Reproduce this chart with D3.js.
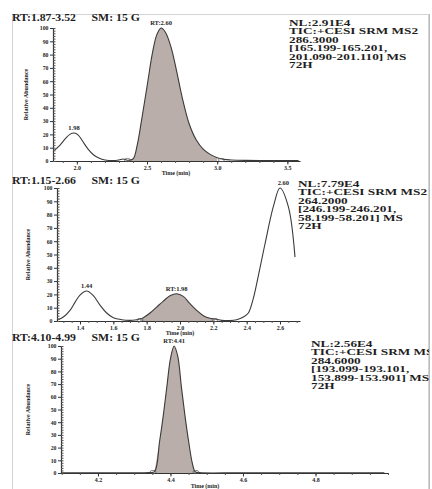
<!DOCTYPE html>
<html>
<head>
<meta charset="utf-8">
<script src="https://cdn.jsdelivr.net/npm/d3@7"></script>
<style>
  body { margin: 0; background: #fff; }
  text { font-family: "Liberation Serif", "DejaVu Serif", serif; font-weight: bold; fill: #1e1e1e; }
</style>
</head>
<body>
<div id="chart"></div>
<script>
// chromatogram 1
const time1 = [1.84, 1.88, 1.92, 1.95, 1.98, 2.01, 2.04, 2.08, 2.12, 2.16, 2.20, 2.26, 2.30, 2.33, 2.36, 2.40, 2.43, 2.46, 2.50, 2.54, 2.57, 2.60, 2.63, 2.67, 2.71, 2.75, 2.80, 2.85, 2.90, 2.95, 3.00, 3.05, 3.10, 3.20, 3.35, 3.58];
const abund1 = [8, 12, 17, 20, 21, 19.5, 15, 9, 4.5, 2, 0.8, 0.3, 0.8, 1.5, 0.6, 1.5, 12, 30, 56, 82, 95, 100, 97, 86, 68, 48, 28, 16, 9, 5, 2.5, 1.2, 0.8, 0.5, 0.4, 0.3];
// chromatogram 2
const time2 = [1.27, 1.30, 1.34, 1.37, 1.40, 1.44, 1.48, 1.52, 1.56, 1.60, 1.65, 1.70, 1.74, 1.76, 1.78, 1.82, 1.86, 1.90, 1.94, 1.98, 2.02, 2.06, 2.10, 2.14, 2.18, 2.21, 2.25, 2.30, 2.34, 2.38, 2.41, 2.44, 2.47, 2.51, 2.56, 2.60, 2.65, 2.69];
const abund2 = [1, 3, 8, 14, 19.5, 22.5, 19, 12, 6, 2.5, 1, 0.5, 1, 1.5, 2.5, 6, 10.5, 15, 19, 20.5, 18.5, 13, 8, 4, 2, 1.5, 0.5, 0.3, 1, 3, 6, 17, 34, 58, 86, 100, 86, 48];
// chromatogram 3
const time3 = [4.10, 4.25, 4.34, 4.356, 4.37, 4.38, 4.39, 4.40, 4.41, 4.42, 4.43, 4.44, 4.45, 4.46, 4.468, 4.48, 4.60, 4.99];
const abund3 = [0.2, 0.2, 0.3, 1, 25, 45, 68, 90, 100, 92, 68, 45, 25, 8, 1, 0.3, 0.2, 0.2];

const titles = ["RT:1.87-3.52", "RT:1.15-2.66", "RT:4.10-4.99"];
const smLabel = "SM: 15 G";
const majorTicks = [[2.0, 2.5, 3.0, 3.5], [1.4, 1.6, 1.8, 2.0, 2.2, 2.4, 2.6], [4.2, 4.4, 4.6, 4.8]];
const fillRanges = [[2.36, 3.03], [1.76, 2.21], [4.352, 4.47]];
const peakLabels = [
  [{t: 1.98, v: 21, s: "1.98"}, {t: 2.60, v: 100, s: "RT:2.60"}],
  [{t: 1.44, v: 22.5, s: "1.44"}, {t: 1.98, v: 20.5, s: "RT:1.98"}, {t: 2.62, v: 100, s: "2.60"}],
  [{t: 4.41, v: 100, s: "RT:4.41"}]
];
const infoText = [
  ["NL:2.91E4", "TIC:+CESI SRM MS2", "286.3000", "[165.199-165.201,", "201.090-201.110] MS", "72H"],
  ["NL:7.79E4", "TIC:+CESI SRM MS2", "264.2000", "[246.199-246.201,", "58.199-58.201] MS", "72H"],
  ["NL:2.56E4", "TIC:+CESI SRM MS2", "284.6000", "[193.099-193.101,", "153.899-153.901] MS", "72H"]
];
const yTicks = [0, 10, 20, 30, 40, 50, 60, 70, 80, 90, 100];

const WIDTH = 432, HEIGHT = 489;

// layout of each panel
const panels = [
  {time: time1, abund: abund1, xDom: [1.83, 3.59], xRange: [53, 300], yRange: [161, 28], minorStep: 0.1,
   titleY: 21, infoX: 289, infoY: 26, ylabX: 28, timeX: 176, timeY: 175},
  {time: time2, abund: abund2, xDom: [1.262, 2.72], xRange: [57, 300], yRange: [321, 188], minorStep: 0.05,
   titleY: 184, infoX: 298, infoY: 187, ylabX: 30, timeX: 180, timeY: 335},
  {time: time3, abund: abund3, xDom: [4.098, 5.0], xRange: [61, 388], yRange: [473, 346], minorStep: 0.05,
   titleY: 341, infoX: 311, infoY: 347, ylabX: 30, timeX: 205, timeY: 488}
];

const svg = d3.select("#chart").append("svg")
    .attr("width", WIDTH)
    .attr("height", HEIGHT)
    .style("display", "block");

svg.append("rect")
    .attr("x", 12.5).attr("y", 14.5)
    .attr("width", 416).attr("height", 480)
    .attr("fill", "none")
    .attr("stroke", "#d4d4d4");

panels.forEach((p, i) => {
    const g = svg.append("g");
    const x = d3.scaleLinear().domain(p.xDom).range(p.xRange);
    const y = d3.scaleLinear().domain([0, 100]).range(p.yRange);
    const pts = p.time.map((t, k) => ({t: t, v: p.abund[k]}));

    // shaded peak
    const fr = fillRanges[i];
    const area = d3.area()
        .x(d => x(d.t)).y0(y(0)).y1(d => y(d.v))
        .curve(d3.curveCatmullRom);
    g.append("path")
        .datum(pts.filter(d => d.t >= fr[0] && d.t <= fr[1]))
        .attr("d", area)
        .attr("fill", "#b9aea9");

    // x axis
    const minors = d3.range(p.xDom[0], p.xDom[1], p.minorStep)
        .map(v => Math.round(Math.ceil(v / p.minorStep) * p.minorStep * 100) / 100)
        .filter(v => v <= p.xDom[1]);
    g.append("g")
        .attr("transform", `translate(0,${y(0)})`)
        .call(d3.axisBottom(x).tickValues(minors).tickSize(2).tickSizeOuter(0).tickFormat(""))
        .call(a => a.select(".domain").attr("stroke", "#333").attr("stroke-width", 1.2))
        .call(a => a.selectAll(".tick line").attr("stroke", "#555"));
    g.append("g")
        .attr("transform", `translate(0,${y(0)})`)
        .call(d3.axisBottom(x).tickValues(majorTicks[i]).tickSize(3.5).tickPadding(1).tickFormat(d3.format(".1f")))
        .call(a => a.select(".domain").remove())
        .call(a => a.selectAll(".tick line").attr("stroke", "#333"))
        .call(a => a.selectAll("text").attr("font-size", 6).attr("font-family", null).attr("fill", null));

    // y axis
    g.append("g")
        .attr("transform", `translate(${p.xRange[0]},0)`)
        .call(d3.axisRight(y).tickValues(d3.range(0, 101, 2)).tickSize(2.5).tickSizeOuter(0).tickFormat(""))
        .call(a => a.select(".domain").attr("stroke", "#333").attr("stroke-width", 1.2))
        .call(a => a.selectAll(".tick line").attr("stroke", "#555"));
    g.append("g")
        .attr("transform", `translate(${p.xRange[0]},0)`)
        .call(d3.axisLeft(y).tickValues(yTicks).tickSize(3).tickPadding(1.5))
        .call(a => a.select(".domain").remove())
        .call(a => a.selectAll(".tick line").attr("stroke", "#333"))
        .call(a => a.selectAll("text").attr("font-size", 5.8).attr("font-family", null).attr("fill", null));

    // trace
    const line = d3.line().x(d => x(d.t)).y(d => y(d.v)).curve(d3.curveCatmullRom);
    g.append("path")
        .datum(pts)
        .attr("d", line)
        .attr("fill", "none")
        .attr("stroke", "#3a3a3a")
        .attr("stroke-width", 1.1);

    // integration markers
    g.selectAll(".mark")
        .data(fr)
        .enter()
        .append("ellipse")
        .attr("cx", d => x(d))
        .attr("cy", y(0) - 1)
        .attr("rx", 3)
        .attr("ry", 1.6)
        .attr("fill", "none")
        .attr("stroke", "#555")
        .attr("stroke-width", 0.7);

    // peak labels
    g.selectAll(".peak")
        .data(peakLabels[i])
        .enter()
        .append("text")
        .attr("x", d => x(d.t))
        .attr("y", d => y(d.v) - 3)
        .attr("text-anchor", "middle")
        .attr("font-size", 6.5)
        .text(d => d.s);

    // title, a little stretched like the scanned original
    const title = g.append("text")
        .attr("transform", `translate(12,${p.titleY}) scale(1.12,1)`)
        .attr("font-size", 10.5);
    title.append("tspan").text(titles[i]);
    title.append("tspan").attr("dx", 14).text(smLabel);

    // info block
    g.selectAll(".info")
        .data(infoText[i])
        .enter()
        .append("text")
        .attr("transform", (d, k) => `translate(${p.infoX},${p.infoY + k * 8.4}) scale(1.58,1)`)
        .attr("font-size", 8.4)
        .text(d => d);

    g.append("text")
        .attr("transform", `translate(${p.ylabX},${(p.yRange[0] + p.yRange[1]) / 2}) rotate(-90)`)
        .attr("text-anchor", "middle")
        .attr("font-size", 6)
        .attr("font-weight", "normal")
        .text("Relative Abundance");

    g.append("text")
        .attr("x", p.timeX)
        .attr("y", p.timeY)
        .attr("text-anchor", "middle")
        .attr("font-size", 6)
        .text("Time (min)");
});

// right page edge of the original scan
svg.append("rect")
    .attr("x", 429).attr("y", 0)
    .attr("width", 3).attr("height", HEIGHT)
    .attr("fill", "#fff");
svg.append("line")
    .attr("x1", 429.5).attr("x2", 429.5)
    .attr("y1", 14).attr("y2", HEIGHT)
    .attr("stroke", "#bbb");
</script>
</body>
</html>
